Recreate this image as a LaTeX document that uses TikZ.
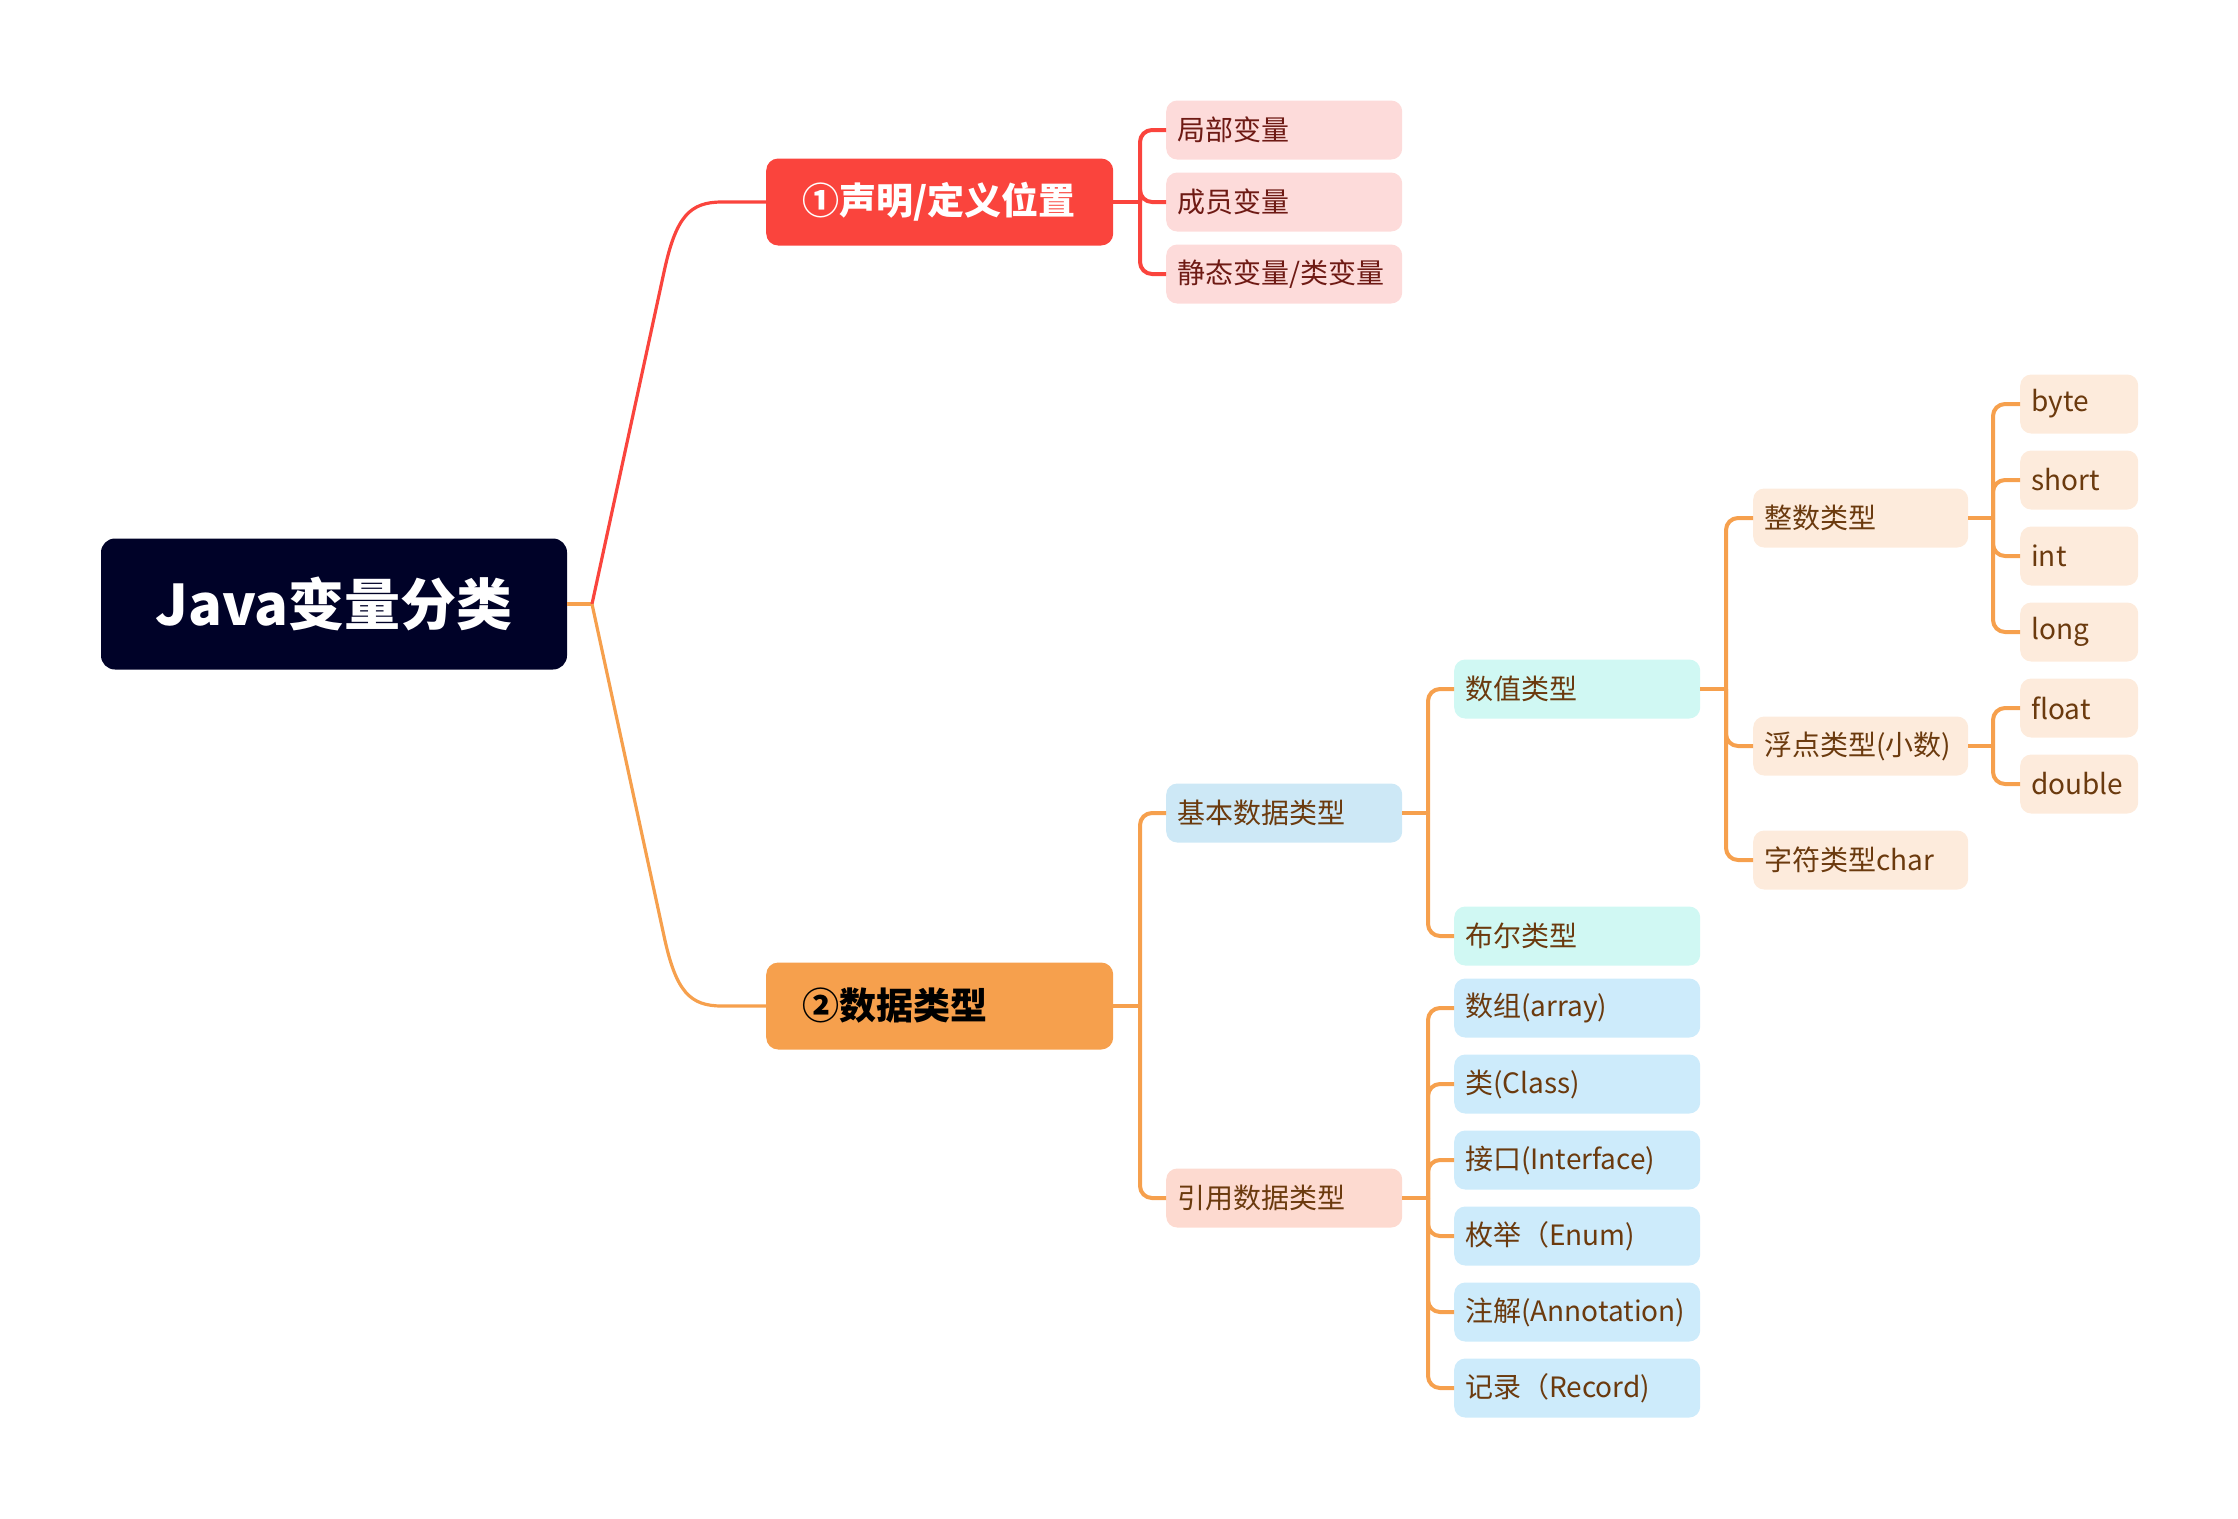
\documentclass[tikz,border=0pt]{standalone}
\usepackage{fontspec}
\setmainfont{Noto Sans CJK SC}
\definecolor{rootbg}{HTML}{000228}
\definecolor{redc}{HTML}{FA443D}
\definecolor{orc}{HTML}{F6A04D}
\definecolor{redchild}{HTML}{FDDBDA}
\definecolor{redtxt}{HTML}{6E1A14}
\definecolor{browntxt}{HTML}{6B3A0E}
\definecolor{basicfill}{HTML}{CDE8F6}
\definecolor{refparent}{HTML}{FDDAD0}
\definecolor{numfill}{HTML}{D0F8F3}
\definecolor{reffill}{HTML}{CDEBFB}
\definecolor{peach}{HTML}{FDEBDC}
\begin{document}
\begin{tikzpicture}[x=1pt,y=-1pt,
  rootbox/.style={rounded corners=14, fill=rootbg, text=white, minimum width=466, minimum height=131,
    inner sep=0, font=\fontsize{56}{64}\selectfont\bfseries},
  l1box/.style={rounded corners=12, anchor=west, minimum height=87, inner xsep=36, inner ysep=0,
    text width=275, align=left, font=\fontsize{37}{44}\selectfont\bfseries},
  leafbox/.style={rounded corners=11, anchor=west, minimum height=59, inner xsep=11, inner ysep=0,
    text width=#1, align=left, font=\fontsize{28}{34}\selectfont, text=browntxt},
  redline/.style={draw=redc, line width=4},
  orline/.style={draw=orc, line width=4},
  rootline/.style={line width=3.2},
]
\useasboundingbox (0,0) rectangle (2238,1518);

% root and main branches
\node[rootbox] (root) at (334,604) {Java变量分类};
\node[l1box, fill=redc, text=white] (pA) at (766,202) {①声明/定义位置};
\node[l1box, fill=orc, text=black] (pB) at (766,1006) {②数据类型};

% declaration position children
\node[leafbox=214, fill=redchild, text=redtxt] (a1) at (1166,130) {局部变量};
\node[leafbox=214, fill=redchild, text=redtxt] (a2) at (1166,202) {成员变量};
\node[leafbox=214, fill=redchild, text=redtxt] (a3) at (1166,274) {静态变量/类变量};

% data types
\node[leafbox=214, fill=basicfill] (b1) at (1166,813) {基本数据类型};
\node[leafbox=214, fill=refparent] (b2) at (1166,1198) {引用数据类型};

\node[leafbox=224, fill=numfill] (n1) at (1454,689) {数值类型};
\node[leafbox=224, fill=numfill] (n2) at (1454,936) {布尔类型};

\node[leafbox=224, fill=reffill] (r1) at (1454,1008) {数组(array)};
\node[leafbox=224, fill=reffill] (r2) at (1454,1084) {类(Class)};
\node[leafbox=224, fill=reffill] (r3) at (1454,1160) {接口(Interface)};
\node[leafbox=224, fill=reffill] (r4) at (1454,1236) {枚举（Enum)};
\node[leafbox=224, fill=reffill] (r5) at (1454,1312) {注解(Annotation)};
\node[leafbox=224, fill=reffill] (r6) at (1454,1388) {记录（Record)};

\node[leafbox=193, fill=peach] (i1) at (1753,518) {整数类型};
\node[leafbox=193, fill=peach] (i2) at (1753,746) {浮点类型(小数)};
\node[leafbox=193, fill=peach] (i3) at (1753,860) {字符类型char};

\node[leafbox=96, fill=peach] (t1) at (2020,404) {byte};
\node[leafbox=96, fill=peach] (t2) at (2020,480) {short};
\node[leafbox=96, fill=peach] (t3) at (2020,556) {int};
\node[leafbox=96, fill=peach] (t4) at (2020,632) {long};
\node[leafbox=96, fill=peach] (t5) at (2020,708) {float};
\node[leafbox=96, fill=peach] (t6) at (2020,784) {double};

% root connectors
\coordinate (jr) at (592,604);
\draw[rootline, draw=orc] (root.east) -- (jr);
\draw[rootline, draw=redc] (jr) -- (664,272) .. controls (676,216) and (690,202) .. (722,202) -- (pA.west);
\draw[rootline, draw=orc] (jr) -- (664,936) .. controls (676,992) and (690,1006) .. (722,1006) -- (pB.west);

% branch connectors
\coordinate (jA) at (1140,202);
\draw[redline] (pA.east) -- (jA);
\foreach \c in {a1,a2,a3} \draw[redline, rounded corners=12] (jA) |- (\c.west);

\coordinate (jB) at (1140,1006);
\draw[orline] (pB.east) -- (jB);
\foreach \c in {b1,b2} \draw[orline, rounded corners=12] (jB) |- (\c.west);

\coordinate (jb1) at (1428,813);
\draw[orline] (b1.east) -- (jb1);
\foreach \c in {n1,n2} \draw[orline, rounded corners=12] (jb1) |- (\c.west);

\coordinate (jb2) at (1428,1198);
\draw[orline] (b2.east) -- (jb2);
\foreach \c in {r1,r2,r3,r4,r5,r6} \draw[orline, rounded corners=12] (jb2) |- (\c.west);

\coordinate (jn1) at (1726,689);
\draw[orline] (n1.east) -- (jn1);
\foreach \c in {i1,i2,i3} \draw[orline, rounded corners=12] (jn1) |- (\c.west);

\coordinate (ji1) at (1993,518);
\draw[orline] (i1.east) -- (ji1);
\foreach \c in {t1,t2,t3,t4} \draw[orline, rounded corners=12] (ji1) |- (\c.west);

\coordinate (ji2) at (1993,746);
\draw[orline] (i2.east) -- (ji2);
\foreach \c in {t5,t6} \draw[orline, rounded corners=12] (ji2) |- (\c.west);
\end{tikzpicture}
\end{document}
